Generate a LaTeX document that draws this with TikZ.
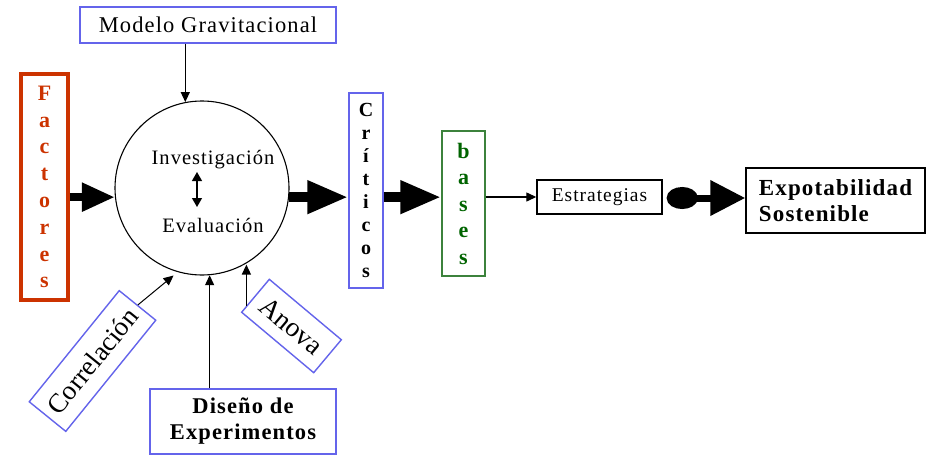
\documentclass[tikz,border=0pt]{standalone}
\usepackage{fontspec}
\setmainfont{Liberation Serif}
\newfontfamily\lsp{Liberation Serif}[LetterSpace=5]
\usetikzlibrary{arrows.meta,calc}
\definecolor{redo}{RGB}{204,51,0}
\definecolor{bluel}{RGB}{100,100,235}
\definecolor{greenb}{RGB}{60,130,60}
\definecolor{greent}{RGB}{0,100,0}
\begin{document}
\begin{tikzpicture}[x=1pt,y=1pt,
  fat/.style={line width=10pt,-{Triangle[length=41pt,width=31pt]}},
  fatsmall/.style={line width=8pt,-{Triangle[length=33pt,width=27pt]}},
  thinarrow/.style={line width=1.3pt,-{Triangle[length=10pt,width=9pt]}},
  bbox/.style={draw=bluel,line width=1.4pt,inner sep=0pt},
  kbox/.style={draw=black,line width=1.4pt,inner sep=0pt}]
\useasboundingbox[fill=white] (0,0) rectangle (932,-474);

% main circle
\node[circle,draw,line width=1.1pt,minimum size=174pt,inner sep=0pt] (c) at (202,-188) {};
\node[font=\lsp\fontsize{20.5}{24}\selectfont,inner sep=0pt] (inv) at (213,-160) {Investigación};
\node[font=\lsp\fontsize{20.5}{24}\selectfont,inner sep=0pt] (eva) at (213,-225) {Evaluación};
\coordinate (da) at (197,-172);
\coordinate (db) at (197,-207);
\draw[line width=1.3pt,{Triangle[length=9pt,width=10pt]}-{Triangle[length=9pt,width=10pt]}] (da) -- (db);

% vertical boxes
\node[draw=redo,line width=3.6pt,minimum width=47pt,minimum height=226pt,inner sep=0pt,
      text=redo,font=\bfseries\fontsize{22}{26.8}\selectfont,align=center] (fac) at (44.5,-187)
      {F\\a\\c\\t\\o\\r\\e\\s};
\node[bbox,minimum width=34pt,minimum height=195pt,font=\bfseries\fontsize{20}{23}\selectfont,align=center]
      (cri) at (366,-190.5) {C\\r\\í\\t\\i\\c\\o\\s};
\node[draw=greenb,line width=1.4pt,inner sep=0pt,minimum width=43pt,minimum height=145pt,
      text=greent,font=\bfseries\fontsize{22}{26.5}\selectfont,align=center]
      (bas) at (463.5,-203.5) {b\\a\\s\\e\\s};

% other boxes
\node[bbox,minimum width=256pt,minimum height=36pt,font=\lsp\fontsize{22.5}{26}\selectfont] (mg) at (208,-25) {Modelo Gravitacional};
\node[kbox,minimum width=125pt,minimum height=34pt,font=\lsp\fontsize{19.5}{22}\selectfont] (est) at (599.5,-197) {Estrategias};
\node[kbox,minimum width=179pt,minimum height=65pt,font=\lsp\bfseries\fontsize{23}{26}\selectfont,align=left] (ex) at (835.5,-200.5) {Expotabilidad\\Sostenible};
\node[bbox,minimum width=186pt,minimum height=65pt,font=\lsp\bfseries\fontsize{22.5}{26}\selectfont,align=center] (dis) at (243,-421.5) {Diseño de\\Experimentos};
\node[bbox,rotate=51,minimum width=143pt,minimum height=47pt,font=\fontsize{27}{30}\selectfont] (corr) at (92.5,-361) {Correlación};
\node[bbox,rotate=-40,minimum width=94pt,minimum height=43pt,font=\fontsize{27.5}{30}\selectfont] (an) at (291.5,-326) {Anova};

% connectors
\draw[fatsmall] (fac.east |- c.186) -- (c.186);
\draw[fat] (c.354) -- (c.354 -| cri.west);
\draw[fat] (cri.east |- c.354) -- (c.354 -| bas.west);
\draw[thinarrow] (bas.east |- est.west) -- (est.west);
\coordinate (eS) at ($(est.east)+(4,-1)$);
\draw[line width=7pt,{Ellipse[length=31pt,width=22pt]}-{Triangle[length=35pt,width=34pt]}] (eS) -- (eS -| ex.west);
\draw[thinarrow] (c.101 |- mg.south) -- (c.101);
\draw[thinarrow] (c.275 |- dis.north) -- (c.275);
\coordinate (aS) at ($(an.south west)!0.2!(an.north west)$);
\draw[thinarrow] (aS) -- (aS |- c.299);
\coordinate (cT) at ($(c.center)+(-108:92)$);
\draw[thinarrow,line width=1pt] (corr.east) -- (cT);
\end{tikzpicture}
\end{document}
